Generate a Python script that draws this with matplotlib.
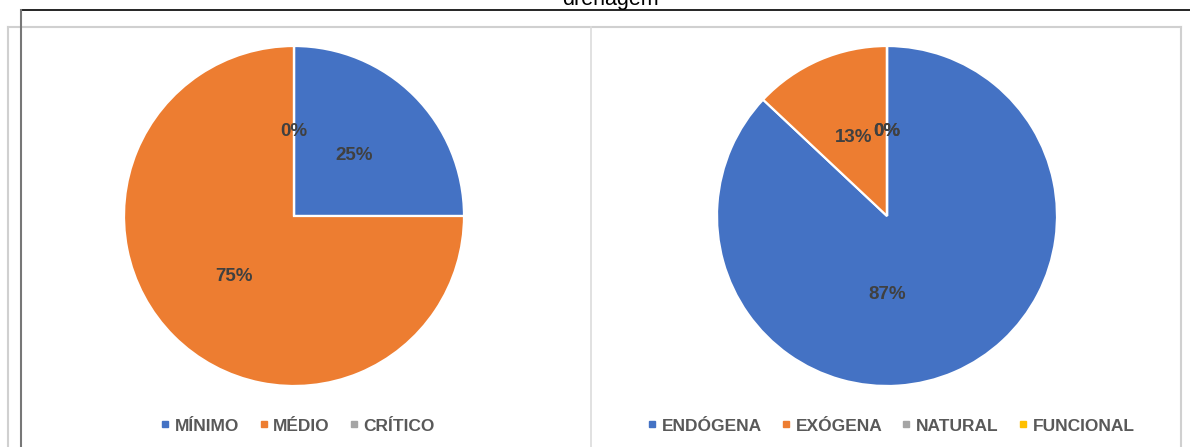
import matplotlib.pyplot as plt
from matplotlib.lines import Line2D

plt.rcParams['font.family'] = ['Liberation Sans', 'DejaVu Sans']

titulo = 'drenagem'

cores = ['#4472C4', '#ED7D31', '#A5A5A5', '#FFC000']

cat_grau = ['MÍNIMO', 'MÉDIO', 'CRÍTICO']
val_grau = [25, 75, 0]

cat_origem = ['ENDÓGENA', 'EXÓGENA', 'NATURAL', 'FUNCIONAL']
val_origem = [87, 13, 0, 0]

W, H = 1190, 447
fig = plt.figure(figsize=(W / 100, H / 100), dpi=100)


def px_axes(cx, cy, r):
    # eixo quadrado em pixels, centrado no centro da pizza
    return fig.add_axes([(cx - r) / W, (H - cy - r) / H, 2 * r / W, 2 * r / H])


def pizza(ax, valores, categorias, leg_x):
    wedges, _, textos = ax.pie(
        valores, colors=cores[:len(valores)], startangle=90, counterclock=False,
        autopct='%1.0f%%', pctdistance=0.5,
        wedgeprops=dict(edgecolor='white', linewidth=1.6),
        textprops=dict(color='#404040', fontsize=13.5, fontweight='bold'))
    ax.set_xlim(-1, 1)
    ax.set_ylim(-1, 1)
    ax.set_aspect('auto')
    ax.axis('off')
    handles = [Line2D([], [], marker='s', linestyle='none', markersize=4,
                      markerfacecolor=c, markeredgecolor=c)
               for c in cores[:len(categorias)]]
    fig.legend(handles, categorias, loc='center', bbox_to_anchor=(leg_x / W, 1 - 426 / H),
               ncol=len(categorias), frameon=False, handlelength=0.5, handletextpad=0.3,
               columnspacing=1.15, prop=dict(size=12.5, weight='bold'),
               labelcolor='#595959')
    return textos


ax1 = px_axes(294, 216, 170)
pizza(ax1, val_grau, cat_grau, 298)

ax2 = px_axes(887, 216, 170)
t2 = pizza(ax2, val_origem, cat_origem, 891)
t2[0].set_x(0)  # rótulo da fatia maior fica no eixo vertical

# moldura cinza do gráfico e divisória
cinza = '#D0D0D0'
fig.add_artist(Line2D([7.5 / W, 7.5 / W], [0, 1 - 26.5 / H], color=cinza, lw=1.5))
fig.add_artist(Line2D([7.5 / W, 1181 / W], [1 - 26.5 / H, 1 - 26.5 / H], color=cinza, lw=1.5))
fig.add_artist(Line2D([1181 / W, 1181 / W], [0, 1 - 26.5 / H], color=cinza, lw=1.5))
fig.add_artist(Line2D([591 / W, 591 / W], [0, 1 - 27 / H], color='#DCDCDC', lw=1.2))

# linhas pretas da tabela por trás
fig.add_artist(Line2D([21 / W, 1], [1 - 10 / H, 1 - 10 / H], color='black', lw=1.2))
fig.add_artist(Line2D([21 / W, 21 / W], [0, 1 - 10 / H], color='#777777', lw=1.5))

fig.text(610 / W, 1 - 5 / H, titulo, ha='center', va='baseline', fontsize=15.5, color='black')

fig.savefig('out.png', dpi=100, facecolor='white')
